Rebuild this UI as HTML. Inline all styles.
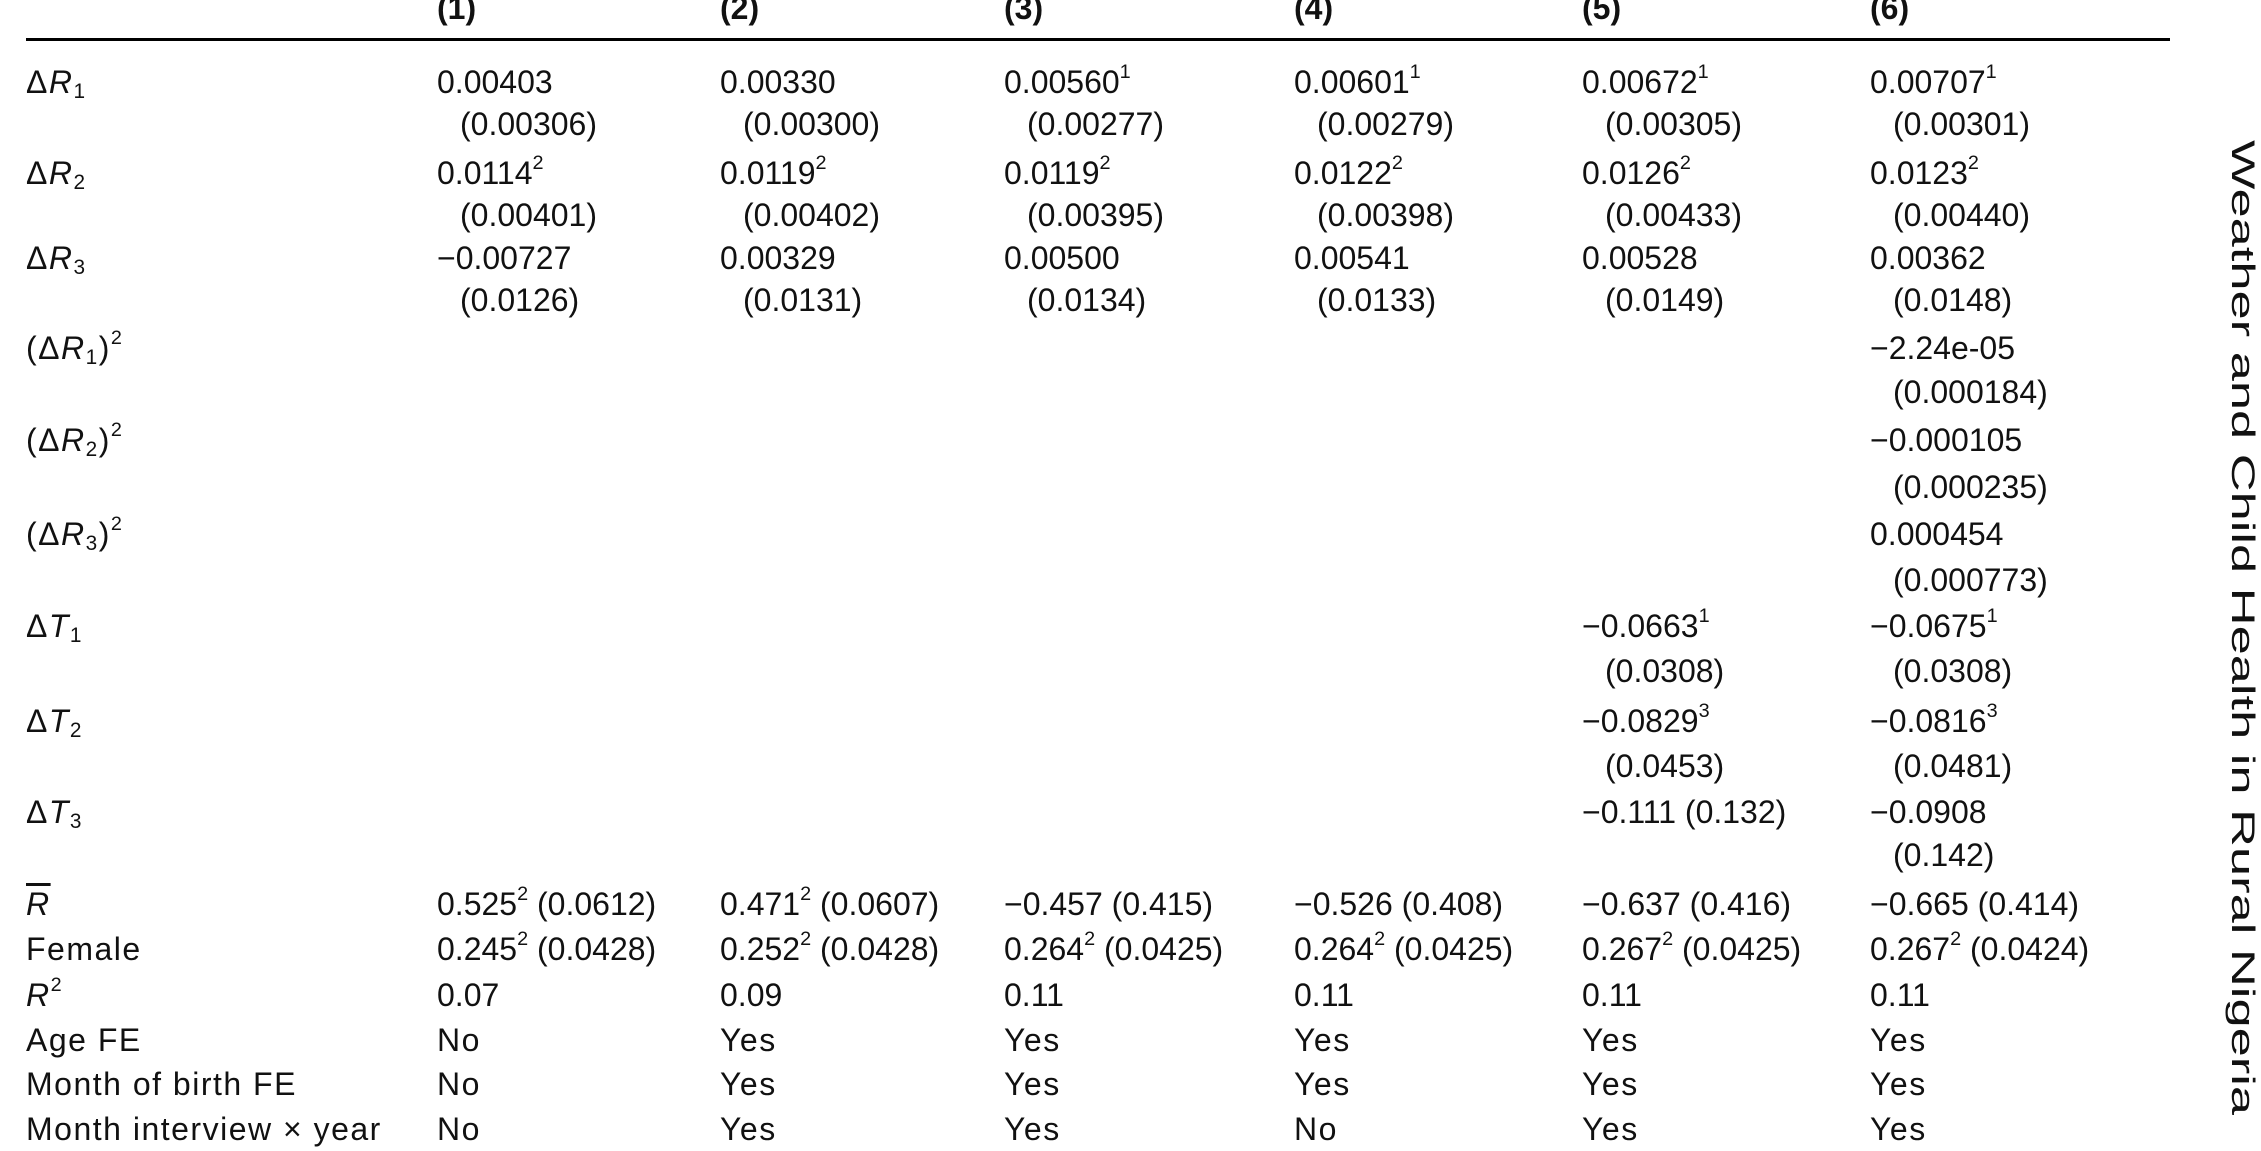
<!DOCTYPE html>
<html><head><meta charset="utf-8">
<style>
html,body{margin:0;padding:0;background:#fff;}
body{width:2261px;height:1143px;position:relative;overflow:hidden;font-family:"Liberation Sans",sans-serif;font-size:32px;color:#111;}
.r{position:absolute;left:0;width:2200px;height:44px;line-height:44px;}
.r span{position:absolute;white-space:nowrap;}
.c0{left:26px;letter-spacing:1.5px}.c1{left:437px}.c2{left:720px}.c3{left:1004px}.c4{left:1294px}.c5{left:1582px}.c6{left:1870px}
.y span{letter-spacing:1.5px}
.s{margin-left:23px}
sup{font-size:0.62em;line-height:0;vertical-align:0.75em;}
sub{font-size:0.65em;line-height:0;vertical-align:-0.25em;}
i{font-style:italic}
.h span{font-weight:bold}
.rule{position:absolute;left:26px;width:2144px;top:38px;height:3px;background:#000;}
</style></head><body>
<div class="r h" style="top:-14px"><span class="c1">(1)</span><span class="c2">(2)</span><span class="c3">(3)</span><span class="c4">(4)</span><span class="c5">(5)</span><span class="c6">(6)</span></div>
<div class="rule"></div>

<div class="r" style="top:60px"><span class="c0">Δ<i>R</i><sub>1</sub></span><span class="c1">0.00403</span><span class="c2">0.00330</span><span class="c3">0.00560<sup>1</sup></span><span class="c4">0.00601<sup>1</sup></span><span class="c5">0.00672<sup>1</sup></span><span class="c6">0.00707<sup>1</sup></span></div>
<div class="r" style="top:102px"><span class="c1 s">(0.00306)</span><span class="c2 s">(0.00300)</span><span class="c3 s">(0.00277)</span><span class="c4 s">(0.00279)</span><span class="c5 s">(0.00305)</span><span class="c6 s">(0.00301)</span></div>
<div class="r" style="top:151px"><span class="c0">Δ<i>R</i><sub>2</sub></span><span class="c1">0.0114<sup>2</sup></span><span class="c2">0.0119<sup>2</sup></span><span class="c3">0.0119<sup>2</sup></span><span class="c4">0.0122<sup>2</sup></span><span class="c5">0.0126<sup>2</sup></span><span class="c6">0.0123<sup>2</sup></span></div>
<div class="r" style="top:193px"><span class="c1 s">(0.00401)</span><span class="c2 s">(0.00402)</span><span class="c3 s">(0.00395)</span><span class="c4 s">(0.00398)</span><span class="c5 s">(0.00433)</span><span class="c6 s">(0.00440)</span></div>
<div class="r" style="top:236px"><span class="c0">Δ<i>R</i><sub>3</sub></span><span class="c1">−0.00727</span><span class="c2">0.00329</span><span class="c3">0.00500</span><span class="c4">0.00541</span><span class="c5">0.00528</span><span class="c6">0.00362</span></div>
<div class="r" style="top:278px"><span class="c1 s">(0.0126)</span><span class="c2 s">(0.0131)</span><span class="c3 s">(0.0134)</span><span class="c4 s">(0.0133)</span><span class="c5 s">(0.0149)</span><span class="c6 s">(0.0148)</span></div>
<div class="r" style="top:326px"><span class="c0">(Δ<i>R</i><sub>1</sub>)<sup>2</sup></span><span class="c6">−2.24e-05</span></div>
<div class="r" style="top:370px"><span class="c6 s">(0.000184)</span></div>
<div class="r" style="top:418px"><span class="c0">(Δ<i>R</i><sub>2</sub>)<sup>2</sup></span><span class="c6">−0.000105</span></div>
<div class="r" style="top:465px"><span class="c6 s">(0.000235)</span></div>
<div class="r" style="top:512px"><span class="c0">(Δ<i>R</i><sub>3</sub>)<sup>2</sup></span><span class="c6">0.000454</span></div>
<div class="r" style="top:558px"><span class="c6 s">(0.000773)</span></div>
<div class="r" style="top:604px"><span class="c0">Δ<i>T</i><sub>1</sub></span><span class="c5">−0.0663<sup>1</sup></span><span class="c6">−0.0675<sup>1</sup></span></div>
<div class="r" style="top:649px"><span class="c5 s">(0.0308)</span><span class="c6 s">(0.0308)</span></div>
<div class="r" style="top:699px"><span class="c0">Δ<i>T</i><sub>2</sub></span><span class="c5">−0.0829<sup>3</sup></span><span class="c6">−0.0816<sup>3</sup></span></div>
<div class="r" style="top:744px"><span class="c5 s">(0.0453)</span><span class="c6 s">(0.0481)</span></div>
<div class="r" style="top:790px"><span class="c0">Δ<i>T</i><sub>3</sub></span><span class="c5">−0.111 (0.132)</span><span class="c6">−0.0908</span></div>
<div class="r" style="top:833px"><span class="c6 s">(0.142)</span></div>
<div class="r" style="top:882px"><span class="c0"><i style="text-decoration:overline">R</i></span><span class="c1">0.525<sup>2</sup> (0.0612)</span><span class="c2">0.471<sup>2</sup> (0.0607)</span><span class="c3">−0.457 (0.415)</span><span class="c4">−0.526 (0.408)</span><span class="c5">−0.637 (0.416)</span><span class="c6">−0.665 (0.414)</span></div>
<div class="r" style="top:927px"><span class="c0">Female</span><span class="c1">0.245<sup>2</sup> (0.0428)</span><span class="c2">0.252<sup>2</sup> (0.0428)</span><span class="c3">0.264<sup>2</sup> (0.0425)</span><span class="c4">0.264<sup>2</sup> (0.0425)</span><span class="c5">0.267<sup>2</sup> (0.0425)</span><span class="c6">0.267<sup>2</sup> (0.0424)</span></div>
<div class="r" style="top:973px"><span class="c0"><i>R</i><sup>2</sup></span><span class="c1">0.07</span><span class="c2">0.09</span><span class="c3">0.11</span><span class="c4">0.11</span><span class="c5">0.11</span><span class="c6">0.11</span></div>
<div class="r y" style="top:1018px"><span class="c0">Age FE</span><span class="c1">No</span><span class="c2">Yes</span><span class="c3">Yes</span><span class="c4">Yes</span><span class="c5">Yes</span><span class="c6">Yes</span></div>
<div class="r y" style="top:1062px"><span class="c0">Month of birth FE</span><span class="c1">No</span><span class="c2">Yes</span><span class="c3">Yes</span><span class="c4">Yes</span><span class="c5">Yes</span><span class="c6">Yes</span></div>
<div class="r y" style="top:1107px"><span class="c0">Month interview × year</span><span class="c1">No</span><span class="c2">Yes</span><span class="c3">Yes</span><span class="c4">No</span><span class="c5">Yes</span><span class="c6">Yes</span></div>

<svg style="position:absolute;left:2220px;top:0" width="41" height="1143">
<text transform="translate(12,140) rotate(90)" font-family="Liberation Sans, sans-serif" font-size="32" fill="#111" textLength="975" lengthAdjust="spacingAndGlyphs">Weather and Child Health in Rural Nigeria</text>
</svg>
</body></html>
